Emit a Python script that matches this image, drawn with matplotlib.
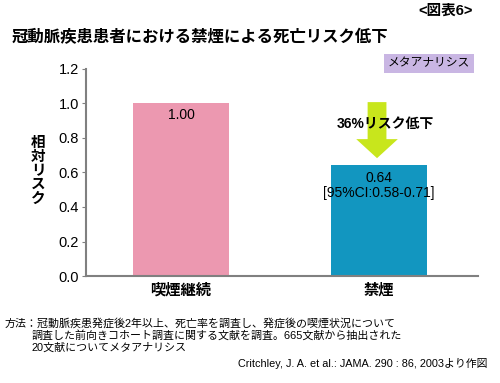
import matplotlib.pyplot as plt
from matplotlib.patches import FancyArrow

plt.rcParams['font.family'] = ['Liberation Sans', 'Noto Sans CJK JP']

categories = ['喫煙継続', '禁煙']
risk = [1.00, 0.64]
bar_labels = ['1.00', '0.64\n[95%CI:0.58-0.71]']
bar_colors = ['#ec98b0', '#1296c0']
yticks = [0.0, 0.2, 0.4, 0.6, 0.8, 1.0, 1.2]


def main():
    fig = plt.figure(figsize=(5.0, 3.83), dpi=100)
    ax = fig.add_axes([0.172, 0.279, 0.784, 0.542])

    x = list(range(len(categories)))
    ax.bar(x, risk, width=0.485, color=bar_colors, zorder=2)
    ax.set_xlim(-0.48, 1.5)
    ax.set_ylim(0, 1.2)
    ax.set_yticks(yticks)
    ax.set_yticklabels([f'{v:.1f}' for v in yticks], fontsize=10.5)
    ax.set_xticks(x)
    ax.set_xticklabels(categories, fontsize=11, fontweight='bold')
    ax.tick_params(axis='x', length=0, pad=5)
    ax.tick_params(axis='y', length=3, color='#808080', pad=2)
    for s in ['top', 'right']:
        ax.spines[s].set_visible(False)
    for s in ['left', 'bottom']:
        ax.spines[s].set_color('#808080')
        ax.spines[s].set_linewidth(1.5)

    # value labels in bars
    for xi, v, lab in zip(x, risk, bar_labels):
        ax.text(xi, v - 0.03, lab, ha='center', va='top', fontsize=10,
                linespacing=1.1)

    # arrow showing reduction
    ax.add_patch(FancyArrow(0.99, 1.006, 0, -0.324, width=0.095,
                            head_width=0.21, head_length=0.11,
                            length_includes_head=True, color='#c8e61c',
                            lw=0, zorder=3))
    ax.text(1.03, 0.879, '36%リスク低下', ha='center', va='center',
            fontsize=10, fontweight='bold', zorder=4)

    # meta-analysis box
    fig.text(0.858, 0.835, 'メタアナリシス', ha='center', va='center',
             fontsize=8.5, bbox=dict(boxstyle='square,pad=0.3',
                                     fc='#c9b6e3', ec='none'))

    fig.text(0.946, 0.971, '<図表6>', ha='right', va='center',
             fontsize=10.5, fontweight='bold')
    fig.text(0.024, 0.903, '冠動脈疾患患者における禁煙による死亡リスク低下',
             ha='left', va='center', fontsize=11.8, fontweight='bold')

    fig.text(0.077, 0.553, '相\n対\nリ\nス\nク', ha='center', va='center',
             fontsize=10.5, fontweight='bold', linespacing=1.0)

    fig.text(0.01, 0.157, '方法：冠動脈疾患発症後2年以上、死亡率を調査し、発症後の喫煙状況について',
             ha='left', va='center', fontsize=7.9)
    fig.text(0.064, 0.125, '調査した前向きコホート調査に関する文献を調査。665文献から抽出された',
             ha='left', va='center', fontsize=7.9)
    fig.text(0.064, 0.093, '20文献についてメタアナリシス',
             ha='left', va='center', fontsize=7.9)
    fig.text(0.975, 0.052, 'Critchley, J. A. et al.: JAMA. 290 : 86, 2003より作図',
             ha='right', va='center', fontsize=7.8)

    fig.savefig('out.png', dpi=100)


main()
